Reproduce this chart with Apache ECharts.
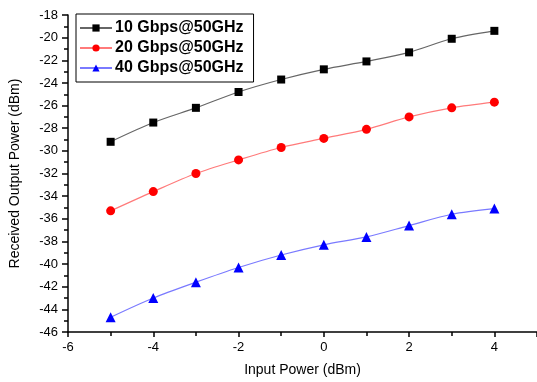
<!DOCTYPE html>
<html>
<head>
<meta charset="utf-8">
<script src="https://cdn.jsdelivr.net/npm/echarts@6/dist/echarts.min.js"></script>
<style>html,body{margin:0;padding:0;background:#fff;}#c{width:537px;height:382px;}</style>
</head>
<body>
<div id="c"></div>
<script>
var inputPower = [-5, -4, -3, -2, -1, 0, 1, 2, 3, 4];
var s10 = [-29.2, -27.5, -26.2, -24.8, -23.7, -22.8, -22.1, -21.3, -20.1, -19.4];
var s20 = [-35.3, -33.6, -32.0, -30.8, -29.7, -28.9, -28.1, -27.0, -26.2, -25.7];
var s40 = [-44.7, -43.0, -41.6, -40.3, -39.2, -38.3, -37.6, -36.6, -35.6, -35.1];
var names = ['10 Gbps@50GHz', '20 Gbps@50GHz', '40 Gbps@50GHz'];

function pairs(arr) { return inputPower.map(function (x, i) { return [x, arr[i]]; }); }

var font = 'Liberation Sans, Arial, sans-serif';
var chart = echarts.init(document.getElementById('c'), null, {renderer: 'canvas'});
chart.setOption({
  animation: false,
  backgroundColor: '#fff',
  grid: {left: 64, top: 15, width: 475, height: 317, containLabel: false},
  legend: {
    left: 76, top: 14, orient: 'vertical',
    borderColor: '#000', borderWidth: 1, padding: [5, 10, 5, 3],
    itemWidth: 32, itemHeight: 9, itemGap: 2,
    textStyle: {fontFamily: font, fontSize: 16, fontWeight: 'bold', color: '#000', lineHeight: 18, padding: [0, 0, 0, -2]},
    data: names
  },
  xAxis: {
    type: 'value', min: -6, max: 5, interval: 2,
    name: 'Input Power (dBm)', nameLocation: 'middle', nameGap: 31,
    nameTextStyle: {fontFamily: font, fontSize: 14, color: '#000'},
    axisLine: {onZero: false, lineStyle: {color: '#000', width: 1.5}},
    axisTick: {show: true, length: 5, lineStyle: {color: '#000', width: 1.5}},
    minorTick: {show: true, splitNumber: 2, length: 4, lineStyle: {color: '#000', width: 1.5}},
    axisLabel: {fontFamily: font, fontSize: 13, color: '#000', margin: 9, showMaxLabel: false},
    splitLine: {show: false}
  },
  yAxis: {
    type: 'value', min: -46, max: -18, interval: 2,
    name: 'Received Output Power (dBm)', nameLocation: 'middle', nameGap: 46, nameRotate: 90,
    nameTextStyle: {fontFamily: font, fontSize: 14, color: '#000'},
    axisLine: {show: true, onZero: false, lineStyle: {color: '#000', width: 1.5}},
    axisTick: {show: true, length: 6, lineStyle: {color: '#000', width: 1.5}},
    minorTick: {show: true, splitNumber: 2, length: 4, lineStyle: {color: '#000', width: 1.5}},
    axisLabel: {fontFamily: font, fontSize: 13, color: '#000', margin: 10},
    splitLine: {show: false}
  },
  series: [
    {name: names[0], type: 'line', data: pairs(s10), smooth: 0.3, symbol: 'rect', symbolSize: 8,
     itemStyle: {color: '#000'}, lineStyle: {color: '#666', width: 1.2}},
    {name: names[1], type: 'line', data: pairs(s20), smooth: 0.3, symbol: 'circle', symbolSize: 9,
     itemStyle: {color: '#ff0000'}, lineStyle: {color: '#ff7a7a', width: 1.2}},
    {name: names[2], type: 'line', data: pairs(s40), smooth: 0.3, symbol: 'triangle', symbolSize: 10,
     itemStyle: {color: '#0000ff'}, lineStyle: {color: '#7a7aff', width: 1.2}}
  ]
});
</script>
</body>
</html>
